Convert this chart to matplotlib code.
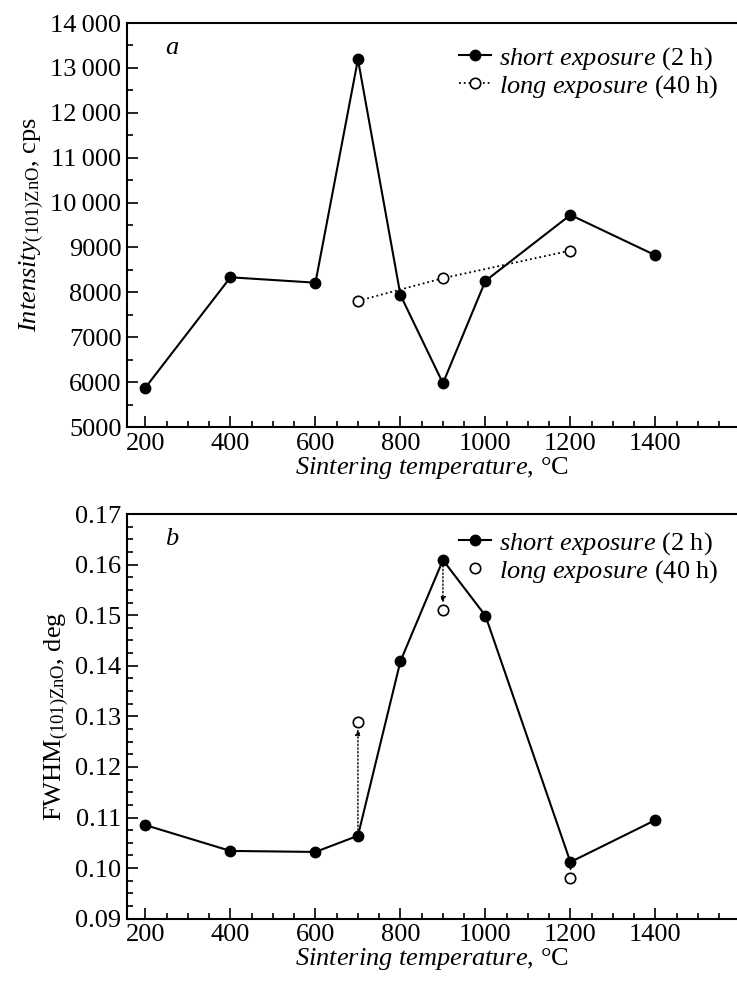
import matplotlib.pyplot as plt
from matplotlib.ticker import MultipleLocator, FuncFormatter

plt.rcParams['font.family'] = ['Liberation Serif', 'DejaVu Serif']
plt.rcParams['mathtext.fontset'] = 'custom'
plt.rcParams['mathtext.rm'] = 'Liberation Serif'
plt.rcParams['mathtext.it'] = 'Liberation Serif:italic'

# temperatures
t_short = [200, 400, 600, 700, 800, 900, 1000, 1200, 1400]
t_long = [700, 900, 1200]

# panel a: intensity (cps)
int_short = [5880, 8335, 8215, 13190, 7940, 5975, 8255, 9725, 8825]
int_long = [7810, 8315, 8930]

# panel b: FWHM (deg)
fwhm_short = [0.1085, 0.1034, 0.1032, 0.1064, 0.1409, 0.1609, 0.1499, 0.1012, 0.1095]
fwhm_long = [0.1289, 0.1510, 0.0980]

fs = 19

fig = plt.figure(figsize=(7.37, 9.83), dpi=100)
ax1 = fig.add_axes([0.1723, 0.5656, 0.8277, 0.4110])
ax2 = fig.add_axes([0.1723, 0.0654, 0.8277, 0.4117])


def thin_fmt(v, pos):
    v = int(round(v))
    if v >= 10000:
        return '%d\u2009%03d' % (v // 1000, v % 1000)
    return '%d' % v


def style(ax):
    ax.spines['right'].set_visible(False)
    for s in ['left', 'bottom', 'top']:
        ax.spines[s].set_linewidth(1.5)
    ax.set_xlim(156.5, 1592)
    ax.xaxis.set_major_locator(MultipleLocator(200))
    ax.xaxis.set_minor_locator(MultipleLocator(50))
    ax.tick_params(which='both', direction='in', top=False, right=False,
                   labelsize=fs, width=1.2)
    ax.tick_params(which='major', length=8, pad=4)
    ax.tick_params(which='minor', length=4.5)
    ax.set_xlabel(r'$\mathit{Sintering\ temperature}$, °C', fontsize=fs, labelpad=0)


# ---- panel a
ax1.plot(t_short, int_short, '-o', color='black', lw=1.5, ms=7.5,
         label=r'$\mathit{short\ exposure}$ (2 h)')
ax1.plot(t_long, int_long, ':o', color='black', lw=1.3, ms=7.5, mfc='white',
         mew=1.2, label=r'$\mathit{long\ exposure}$ (40 h)')
style(ax1)
ax1.set_ylim(5000, 14000)
ax1.yaxis.set_major_locator(MultipleLocator(1000))
ax1.yaxis.set_minor_locator(MultipleLocator(500))
ax1.yaxis.set_major_formatter(FuncFormatter(thin_fmt))
ax1.set_ylabel(r'$\mathit{Intensity}_{\mathrm{(101)ZnO}}$, cps', fontsize=fs, labelpad=3)
ax1.text(0.062, 0.965, 'a', transform=ax1.transAxes, fontsize=fs,
         style='italic', va='top')
ax1.legend(loc='upper right', bbox_to_anchor=(0.995, 0.985), frameon=False,
           fontsize=fs, handlelength=1.2, handletextpad=0.3, labelspacing=0.05,
           borderaxespad=0.2)

# ---- panel b
ax2.plot(t_short, fwhm_short, '-o', color='black', lw=1.5, ms=7.5,
         label=r'$\mathit{short\ exposure}$ (2 h)')
ax2.plot(t_long, fwhm_long, 'o', color='black', ms=7.5, mfc='white', mew=1.2,
         label=r'$\mathit{long\ exposure}$ (40 h)')
for x, y0, y1 in zip(t_long, [fwhm_short[t_short.index(t)] for t in t_long], fwhm_long):
    ax2.annotate('', xy=(x, y1), xytext=(x, y0),
                 arrowprops=dict(arrowstyle='-|>,head_length=0.35,head_width=0.15',
                                 linestyle=':', color='black', lw=1.0,
                                 shrinkA=4, shrinkB=5))
style(ax2)
ax2.set_ylim(0.09, 0.17)
ax2.yaxis.set_major_locator(MultipleLocator(0.01))
ax2.yaxis.set_minor_locator(MultipleLocator(0.0025))
ax2.yaxis.set_major_formatter(FuncFormatter(lambda v, p: '%.2f' % v))
ax2.set_ylabel(r'FWHM$_{\mathrm{(101)ZnO}}$, deg', fontsize=fs, labelpad=3)
ax2.text(0.062, 0.965, 'b', transform=ax2.transAxes, fontsize=fs,
         style='italic', va='top')
ax2.legend(loc='upper right', bbox_to_anchor=(0.995, 1.0), frameon=False,
           fontsize=fs, handlelength=1.2, handletextpad=0.3, labelspacing=0.05,
           borderaxespad=0.2)

fig.savefig('out.png', dpi=100)
